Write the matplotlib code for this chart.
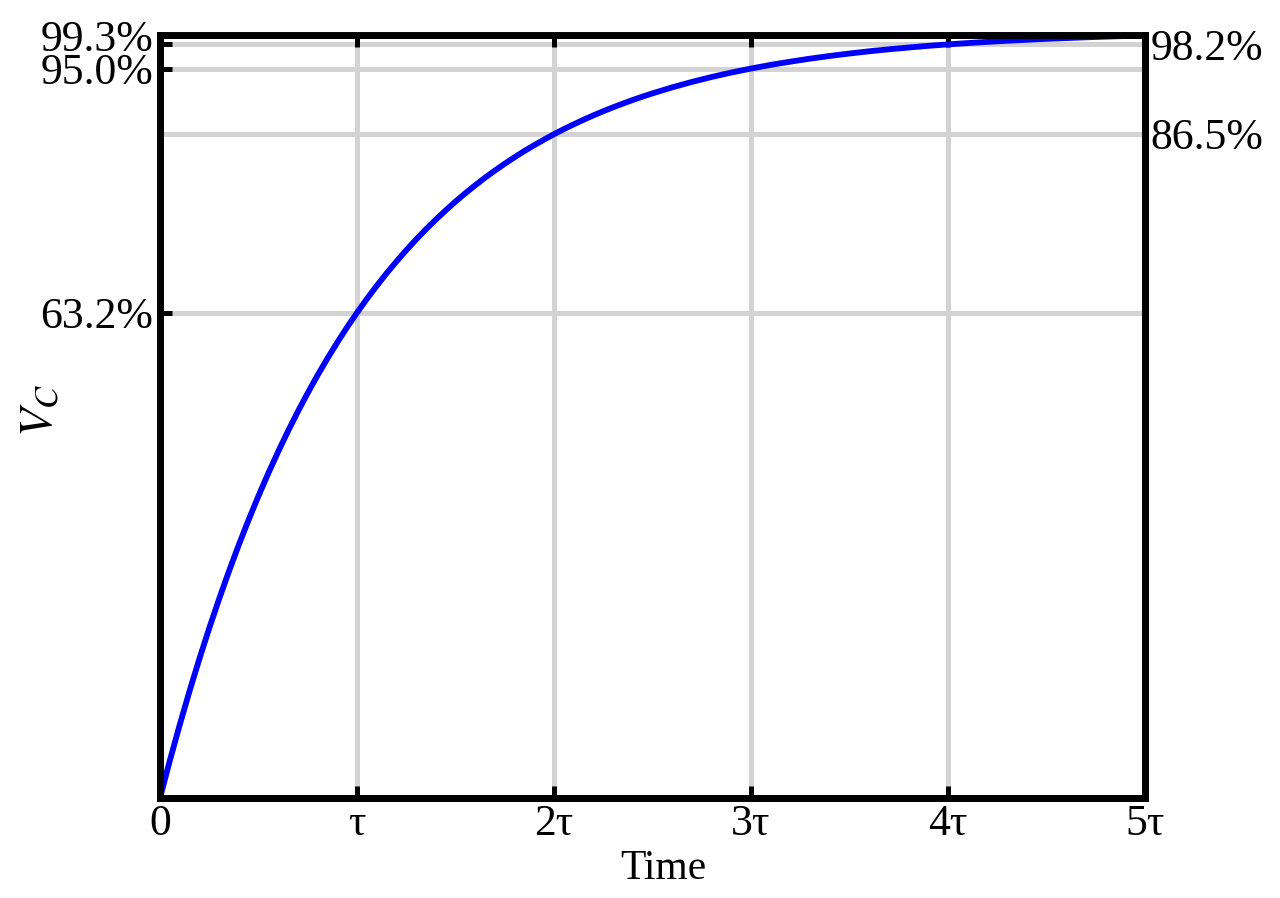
import matplotlib
matplotlib.use("Agg")
import matplotlib.pyplot as plt

# ---- data ----
t_tau = [0.0, 0.05, 0.1, 0.15, 0.2, 0.25, 0.3, 0.35, 0.4, 0.45,
         0.5, 0.55, 0.6, 0.65, 0.7, 0.75, 0.8, 0.85, 0.9, 0.95,
         1.0, 1.05, 1.1, 1.15, 1.2, 1.25, 1.3, 1.35, 1.4, 1.45,
         1.5, 1.55, 1.6, 1.65, 1.7, 1.75, 1.8, 1.85, 1.9, 1.95,
         2.0, 2.05, 2.1, 2.15, 2.2, 2.25, 2.3, 2.35, 2.4, 2.45,
         2.5, 2.6, 2.7, 2.8, 2.9,
         3.0, 3.1, 3.2, 3.3, 3.4, 3.5, 3.6, 3.7, 3.8, 3.9,
         4.0, 4.1, 4.2, 4.3, 4.4, 4.5, 4.6, 4.7, 4.8, 4.9, 5.0]
vc_pct = [0.0, 4.88, 9.52, 13.93, 18.13, 22.12, 25.92, 29.53, 32.97, 36.24,
          39.35, 42.31, 45.12, 47.80, 50.34, 52.76, 55.07, 57.26, 59.34, 61.33,
          63.21, 65.01, 66.71, 68.34, 69.88, 71.35, 72.75, 74.08, 75.34, 76.54,
          77.69, 78.78, 79.81, 80.80, 81.73, 82.62, 83.47, 84.28, 85.04, 85.77,
          86.47, 87.13, 87.75, 88.35, 88.92, 89.46, 89.97, 90.46, 90.93, 91.37,
          91.79, 92.57, 93.28, 93.92, 94.50,
          95.02, 95.50, 95.92, 96.31, 96.66, 96.98, 97.27, 97.53, 97.76, 97.98,
          98.17, 98.34, 98.50, 98.64, 98.77, 98.89, 98.99, 99.09, 99.18, 99.26, 99.33]

x_ticks = [0, 1, 2, 3, 4, 5]
x_tick_labels = ["0", "τ", "2τ", "3τ", "4τ", "5τ"]
y_grid = [63.2, 86.5, 95.0, 98.2]
left_ticks = [63.2, 95.0, 98.2, 99.33]
left_tick_labels = ["63.2%", "95.0%", "", "99.3%"]
right_ticks = [86.5, 98.2]
right_tick_labels = ["86.5%", "98.2%"]
y_top = 99.33

plt.rcParams["font.family"] = ["Liberation Serif", "DejaVu Serif"]
plt.rcParams["mathtext.fontset"] = "stix"

fig = plt.figure(figsize=(12.8, 8.98), dpi=100)
ax = fig.add_axes([0.125, 0.1114, 0.7695, 0.8491])

grid_kw = dict(color="#d3d3d3", lw=3.6, zorder=1)
for gy in y_grid:
    ax.axhline(gy, **grid_kw)
for gx in x_ticks[1:-1]:
    ax.axvline(gx, **grid_kw)

ax.plot(t_tau, vc_pct, color="#0000ff", lw=4.2, zorder=3,
        solid_capstyle="butt", solid_joinstyle="round")

ax.set_xlim(0, 5)
ax.set_ylim(0, y_top)
ax.set_xticks(x_ticks)
ax.set_xticklabels(x_tick_labels)
ax.set_yticks(left_ticks)
ax.set_yticklabels(left_tick_labels)
ax.tick_params(axis="both", direction="in", length=8.5, width=3.6,
               labelsize=31.5, top=True, right=True, pad=4)
ax.tick_params(axis="y", pad=5)
for s in ax.spines.values():
    s.set_linewidth(5)
    s.set_zorder(4)

ax2 = ax.twinx()
ax2.set_ylim(0, y_top)
ax2.set_yticks(right_ticks)
ax2.set_yticklabels(right_tick_labels)
ax2.tick_params(axis="y", length=0, labelsize=31.5, pad=4)
for s in ax2.spines.values():
    s.set_visible(False)

ax.set_xlabel("Time", fontsize=30)
ax.xaxis.set_label_coords(0.511, -0.068)
ax.set_ylabel("$V_C$", fontsize=34)
ax.yaxis.set_label_coords(-0.099, 0.509)

fig.savefig("out.png", dpi=100)
